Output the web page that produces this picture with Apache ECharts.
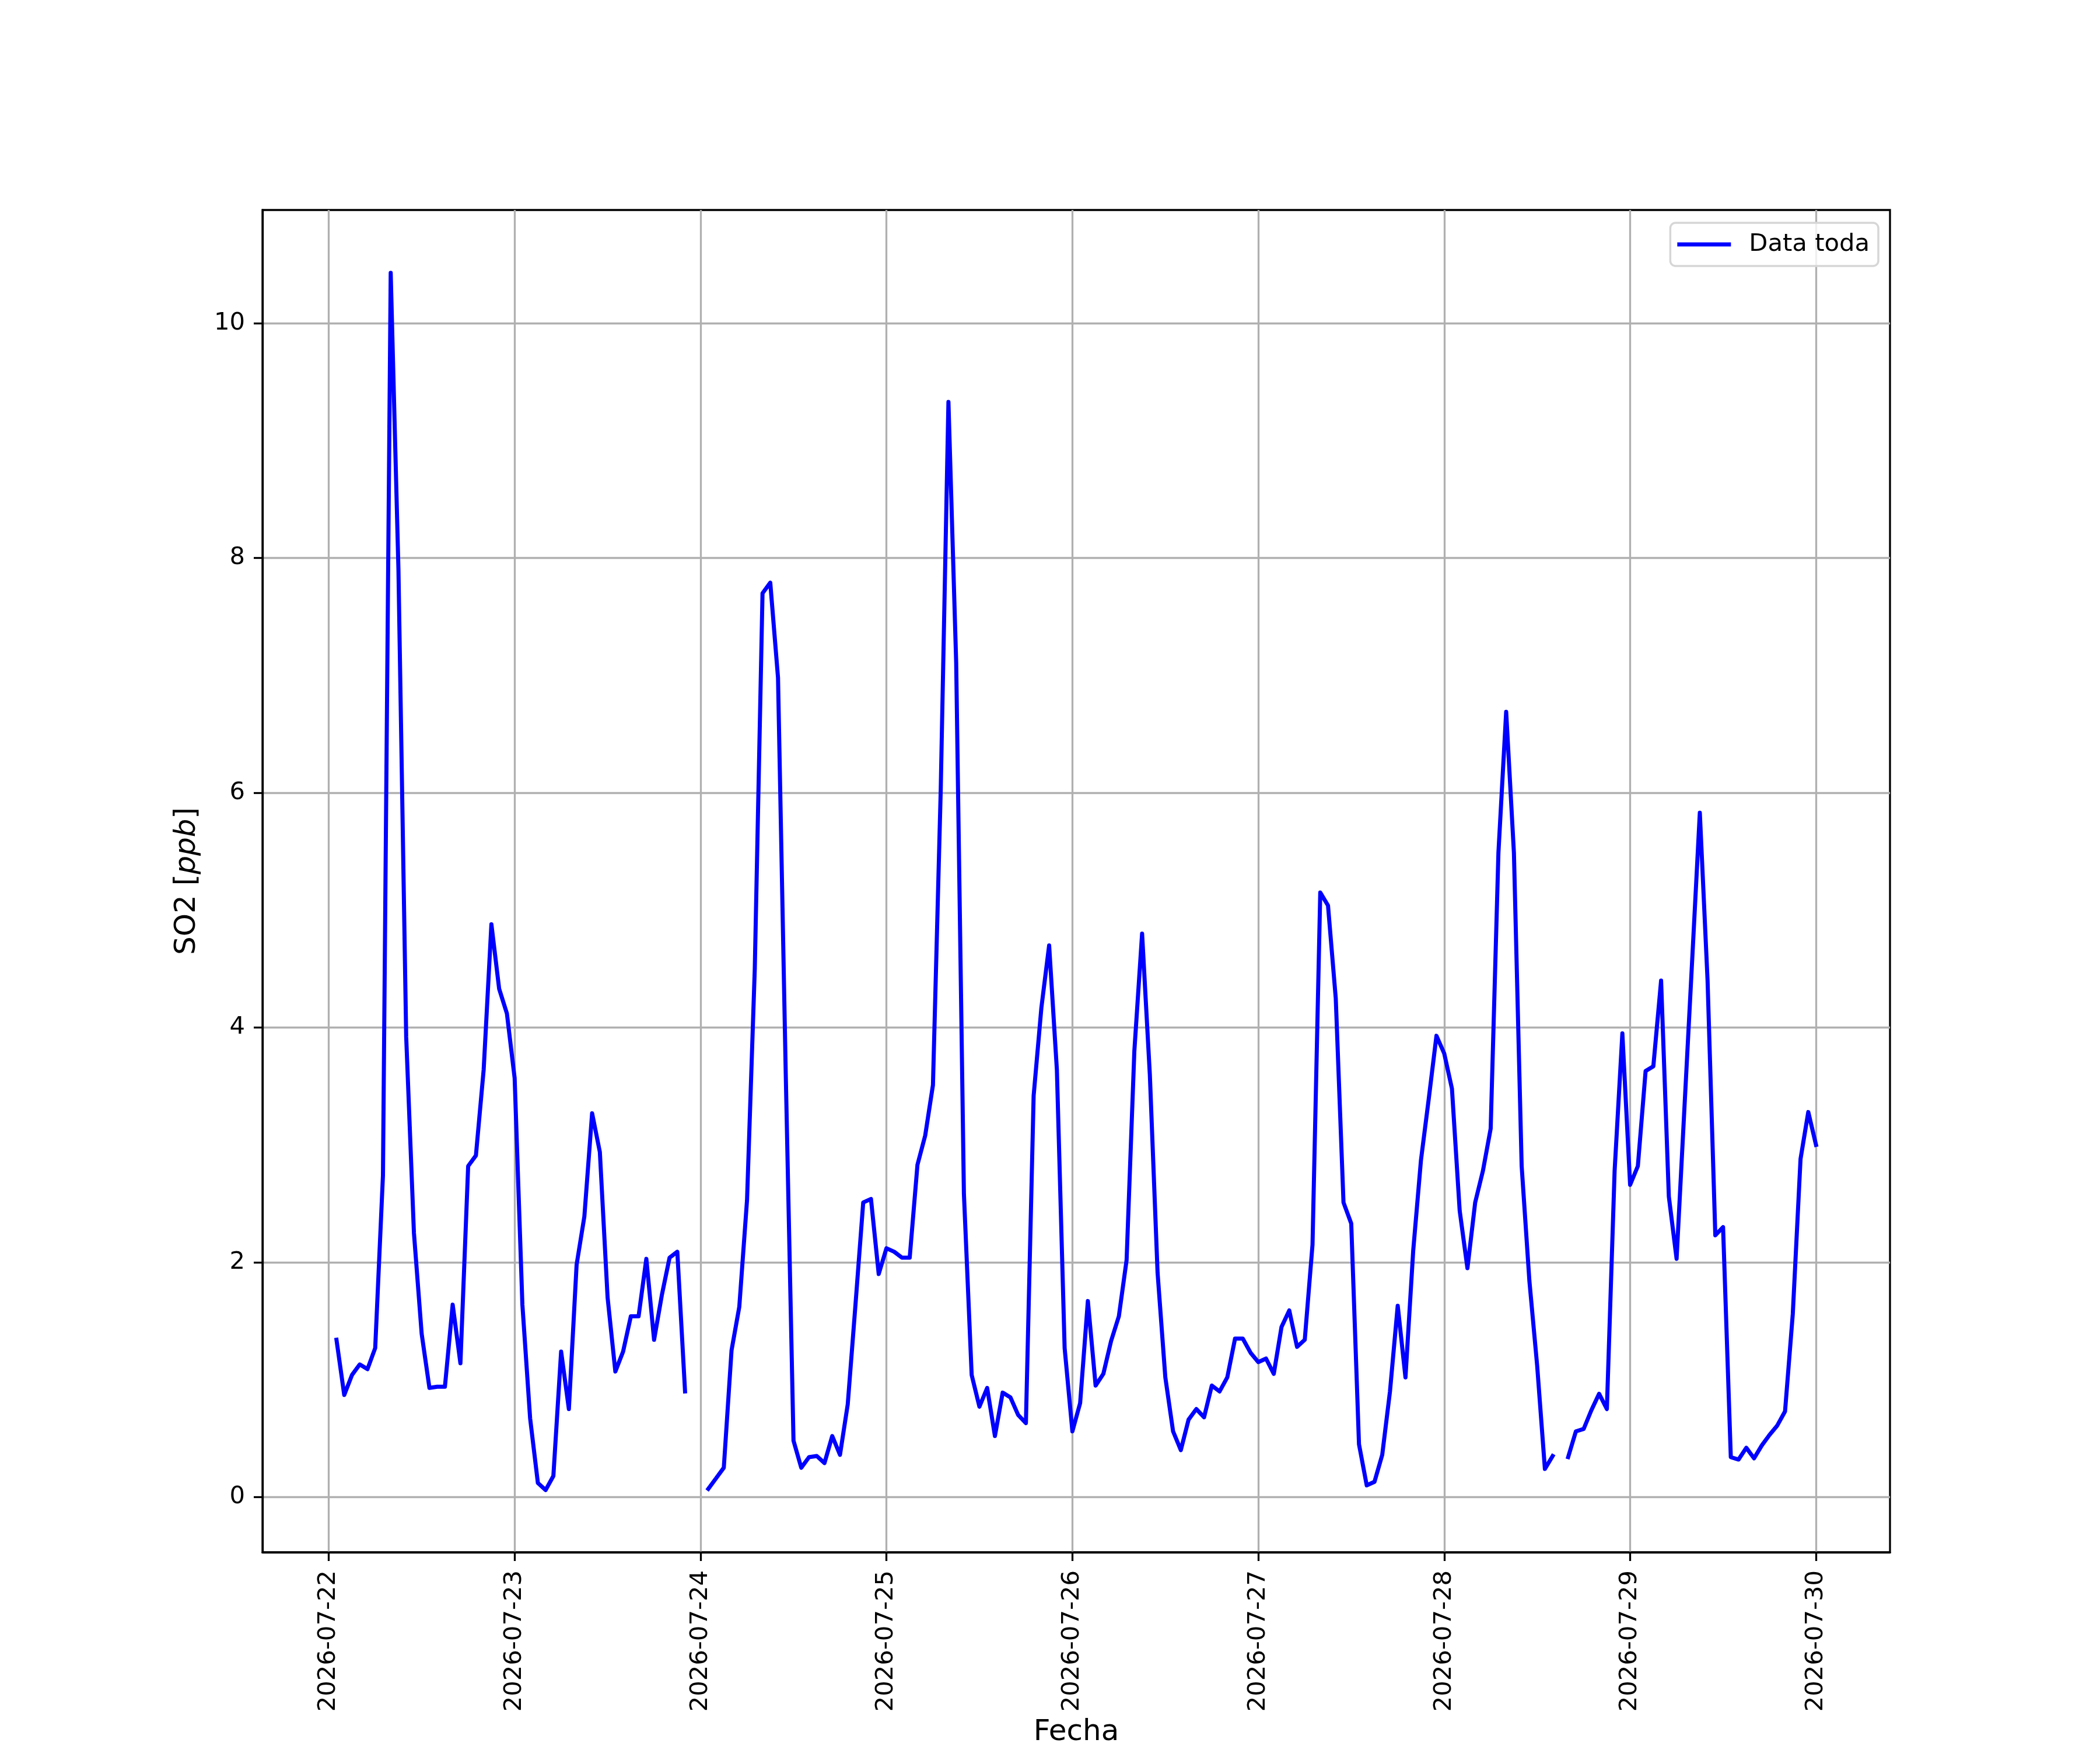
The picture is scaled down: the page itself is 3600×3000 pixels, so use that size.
<!DOCTYPE html>
<html>
<head>
<meta charset="utf-8">
<script src="https://cdn.jsdelivr.net/npm/echarts@6/dist/echarts.min.js"></script>
<style>
html,body{margin:0;padding:0;background:#ffffff;}
#chart{width:3600px;height:3000px;}
</style>
</head>
<body>
<div id="chart"></div>
<script>
// Tick labels (one per day, 00:00)
const dayLabels = ['2026-07-22','2026-07-23','2026-07-24','2026-07-25','2026-07-26','2026-07-27','2026-07-28','2026-07-29','2026-07-30'];
const xTicks = [0, 1, 2, 3, 4, 5, 6, 7, 8];
const yTicks = [0, 2, 4, 6, 8, 10];
const seriesName = 'Data toda';

// Hourly SO2 [ppb], hours 00..23 of each day (null = no data)
const so2_0722 = [null,1.34,0.87,1.04,1.13,1.09,1.27,2.74,10.43,7.90,3.92,2.25,1.39,0.93,0.94,0.94,1.64,1.14,2.82,2.91,3.64,4.88,4.33,4.12];
const so2_0723 = [3.57,1.64,0.67,0.12,0.06,0.18,1.24,0.75,1.98,2.39,3.27,2.94,1.70,1.07,1.24,1.54,1.54,2.03,1.34,1.72,2.04,2.09,0.90,null];
const so2_0724 = [null,0.07,0.16,0.25,1.25,1.62,2.53,4.50,7.70,7.79,6.98,3.60,0.48,0.25,0.34,0.35,0.29,0.52,0.36,0.79,1.64,2.51,2.54,1.90];
const so2_0725 = [2.12,2.09,2.04,2.04,2.83,3.08,3.51,6.01,9.33,7.11,2.58,1.04,0.77,0.93,0.52,0.89,0.85,0.70,0.63,3.42,4.17,4.70,3.64,1.27];
const so2_0726 = [0.56,0.80,1.67,0.95,1.05,1.33,1.54,2.02,3.80,4.80,3.60,1.91,1.02,0.56,0.40,0.66,0.75,0.68,0.95,0.90,1.02,1.35,1.35,1.23];
const so2_0727 = [1.15,1.18,1.05,1.45,1.59,1.28,1.34,2.15,5.15,5.04,4.25,2.51,2.33,0.45,0.10,0.13,0.36,0.90,1.63,1.02,2.10,2.87,3.39,3.93];
const so2_0728 = [3.78,3.48,2.44,1.95,2.51,2.78,3.14,5.49,6.69,5.49,2.82,1.84,1.12,0.24,0.35,null,0.34,0.56,0.58,0.74,0.88,0.75,2.78,3.95];
const so2_0729 = [2.66,2.82,3.63,3.67,4.40,2.56,2.03,3.30,4.56,5.83,4.40,2.23,2.30,0.34,0.32,0.42,0.33,0.44,0.53,0.61,0.73,1.56,2.88,3.28];
const so2_0730 = [3.00];

const days = [so2_0722, so2_0723, so2_0724, so2_0725, so2_0726, so2_0727, so2_0728, so2_0729, so2_0730];

// x in days since 2026-07-22 00:00
const lineData = [];
days.forEach(function (arr, d) {
  arr.forEach(function (v, h) {
    lineData.push([d + h / 24, v]);
  });
});

const FONT = 'DejaVu Sans';
const chart = echarts.init(document.getElementById('chart'), null, {renderer: 'canvas'});
chart.setOption({
  animation: false,
  backgroundColor: '#ffffff',
  grid: {
    left: 450, top: 360, width: 2790, height: 2310,
    show: true, borderColor: '#000000', borderWidth: 3.3, backgroundColor: '#ffffff',
    containLabel: false
  },
  legend: {
    orient: 'vertical',
    right: 380, top: 382,
    data: [{name: seriesName, icon: 'rect'}],
    itemWidth: 92, itemHeight: 7,
    padding: [12, 15, 12, 12],
    backgroundColor: 'rgba(255,255,255,0.8)',
    borderColor: '#d6d6d6', borderWidth: 3.5, borderRadius: 9,
    textStyle: {fontFamily: FONT, fontSize: 41.7, color: '#000000', lineHeight: 50, padding: [0, 0, 0, 26]}
  },
  xAxis: {
    type: 'value',
    min: -0.35625, max: 8.397917,
    splitNumber: 8,
    name: 'Fecha',
    nameLocation: 'middle',
    nameGap: 284,
    nameTextStyle: {fontFamily: FONT, fontSize: 50, color: '#000000'},
    axisLine: {onZero: false, lineStyle: {color: '#000000', width: 3.3}},
    axisTick: {show: true, length: 15, inside: false, customValues: xTicks, lineStyle: {color: '#000000', width: 3.3}},
    axisLabel: {
      rotate: 90, margin: 31,
      customValues: xTicks,
      fontFamily: FONT, fontSize: 41.7, color: '#000000',
      formatter: function (v) { const i = Math.round(v); return dayLabels[i] || ''; }
    },
    splitLine: {show: true, lineStyle: {color: '#b0b0b0', width: 3.3}}
  },
  yAxis: {
    type: 'value',
    min: -0.47, max: 10.965,
    splitNumber: 5,
    name: '{a|SO2 [}{b|ppb}{a|]}',
    nameLocation: 'middle',
    nameRotate: 90,
    nameGap: 104,
    nameTextStyle: {
      rich: {
        a: {fontFamily: FONT, fontSize: 50, color: '#000000'},
        b: {fontFamily: FONT, fontSize: 50, fontStyle: 'italic', color: '#000000'}
      }
    },
    axisLine: {onZero: false, lineStyle: {color: '#000000', width: 3.3}},
    axisTick: {show: true, length: 15, inside: false, customValues: yTicks, lineStyle: {color: '#000000', width: 3.3}},
    axisLabel: {
      margin: 30,
      customValues: yTicks,
      fontFamily: FONT, fontSize: 41.7, color: '#000000',
      formatter: function (v) { return String(Math.round(v)); }
    },
    splitLine: {show: true, lineStyle: {color: '#b0b0b0', width: 3.3}}
  },
  series: [{
    name: seriesName,
    type: 'line',
    data: lineData,
    showSymbol: false,
    symbol: 'none',
    connectNulls: false,
    lineStyle: {color: '#0000ff', width: 7, join: 'round', cap: 'square'},
    itemStyle: {color: '#0000ff'},
    z: 3
  }]
});
</script>
</body>
</html>
